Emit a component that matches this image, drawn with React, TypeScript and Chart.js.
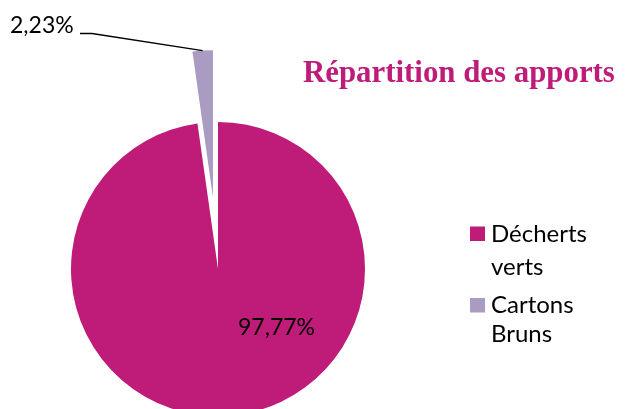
import React, { useEffect, useRef } from "react";
import { Chart, registerables } from "chart.js";

Chart.register(...registerables);

const categories = ["Décherts verts", "Cartons Bruns"];
const legendLines = [["Décherts", "verts"], ["Cartons", "Bruns"]];
const values = [97.77, 2.23];
const valueLabels = ["97,77%", "2,23%"];
const colors = ["#BF1B79", "#A99BC1"];
const titleText = "Répartition des apports";

const explodePlugin = {
  id: "explode",
  afterDatasetsUpdate(chart: any) {
    const meta = chart.getDatasetMeta(0);
    const el = meta.data[1];
    if (!el) return;
    const half = (el.startAngle + el.endAngle) / 2;
    const d = 72;
    el.x = el.x + Math.cos(half) * d;
    el.y = el.y + Math.sin(half) * d;
  },
};

const decorPlugin = {
  id: "decor",
  afterDraw(chart: any) {
    const ctx = chart.ctx;
    const meta = chart.getDatasetMeta(0);
    ctx.save();
    // title
    ctx.fillStyle = colors[0];
    ctx.textBaseline = "alphabetic";
    ctx.textAlign = "left";
    ctx.font = 'bold 30px "Liberation Serif"';
    const w = ctx.measureText(titleText).width;
    const size = (30 * 312) / w;
    ctx.font = `bold ${size}px "Liberation Serif"`;
    ctx.fillText(titleText, 303, 82);

    // value labels
    ctx.fillStyle = "#000000";
    ctx.font = '23px Lato';
    ctx.fillText(valueLabels[0], 238, 335);
    ctx.fillText(valueLabels[1], 10, 33);

    // leader line
    const el = meta.data[1];
    if (el) {
      const half = (el.startAngle + el.endAngle) / 2;
      const ex = el.x + Math.cos(half) * el.outerRadius;
      const ey = el.y + Math.sin(half) * el.outerRadius;
      ctx.strokeStyle = "#000000";
      ctx.lineWidth = 1.3;
      ctx.beginPath();
      ctx.moveTo(80, 33.5);
      ctx.lineTo(92, 33.5);
      ctx.lineTo(ex, ey);
      ctx.stroke();
    }

    // legend
    const squares = [226.5, 298];
    const baselines = [
      [241.5, 274.5],
      [312.5, 341.5],
    ];
    legendLines.forEach((lines, i) => {
      ctx.fillStyle = colors[i];
      ctx.fillRect(470, squares[i], 15, 14.5);
      ctx.fillStyle = "#000000";
      ctx.font = '24px Lato';
      lines.forEach((t, j) => ctx.fillText(t, 491, baselines[i][j]));
    });
    ctx.restore();
  },
};

export default function App() {
  const ref = useRef<HTMLCanvasElement>(null);
  useEffect(() => {
    document.body.style.margin = "0";
    const chart = new Chart(ref.current!, {
      type: "pie",
      data: {
        labels: categories,
        datasets: [
          {
            data: values,
            backgroundColor: colors,
            borderWidth: 0,
            radius: 147,
            clip: false,
          } as any,
        ],
      },
      options: {
        responsive: false,
        animation: false,
        events: [],
        layout: { padding: { left: 0, right: 189, top: 129, bottom: 0 } },
        plugins: {
          legend: { display: false },
          title: { display: false },
          tooltip: { enabled: false },
        },
      },
      plugins: [explodePlugin, decorPlugin],
    });
    return () => chart.destroy();
  }, []);
  return (
    <div style={{ position: "absolute", left: 0, top: 0, width: 625, height: 409, background: "#fff" }}>
      <canvas ref={ref} width={625} height={409} />
    </div>
  );
}
